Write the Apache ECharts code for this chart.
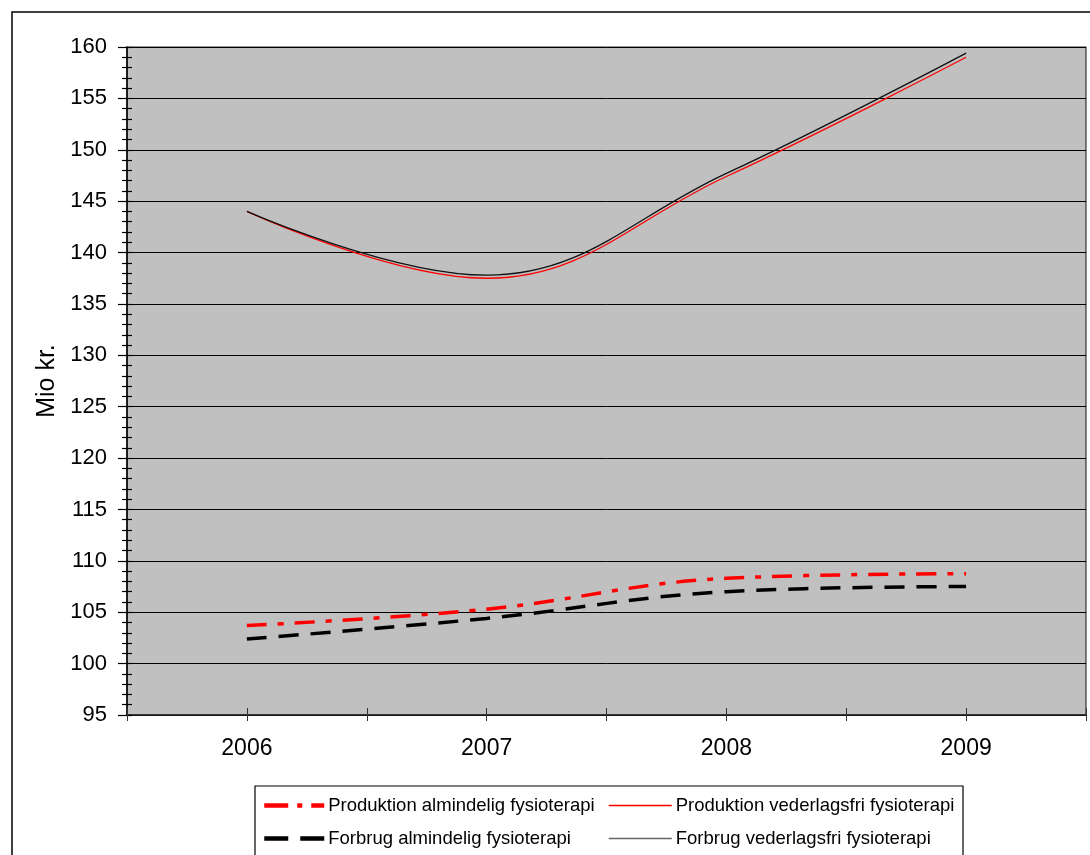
<!DOCTYPE html>
<html>
<head>
<meta charset="utf-8">
<script src="https://cdn.jsdelivr.net/npm/echarts@6/dist/echarts.min.js"></script>
<style>html,body{margin:0;padding:0;background:#fff}#c{width:1090px;height:855px}</style>
</head>
<body>
<div id="c"></div>
<script>
var years = [2006, 2007, 2008, 2009];
var prodAlm = [103.7, 105.3, 108.3, 108.75];
var prodVed = [144.0, 137.5, 147.4, 159.0];
var forbAlm = [102.4, 104.4, 107.0, 107.5];
var forbVed = [144.0, 137.8, 147.7, 159.4];
var names = ['Produktion almindelig fysioterapi', 'Produktion vederlagsfri fysioterapi',
             'Forbrug almindelig fysioterapi', 'Forbrug vederlagsfri fysioterapi'];
var yAxisName = 'Mio kr.';

function pts(arr){ return years.map(function(y,i){ return [y, arr[i]]; }); }

var chart = echarts.init(document.getElementById('c'));
var font = 'Liberation Sans, Arial, sans-serif';
var xBase = {type:'value', min:2005.5, max:2009.5, interval:0.5, gridIndex:0};
var yBase = {type:'value', min:95, max:160, interval:5, gridIndex:0};

function leg(i, left, top, w, extra){
  var o = {data:[names[i]], orient:'horizontal', left:left, top:top, itemWidth:w, itemHeight:14, padding:0,
    itemStyle:{opacity:0, borderWidth:0},
    textStyle:{fontFamily:font, fontSize:18.5, color:'#000', padding:[0,0,0,-1]}};
  return Object.assign(o, extra || {});
}

chart.setOption({
  animation:false,
  backgroundColor:'#fff',
  grid:{left:127, right:4, top:47, bottom:140, show:true, backgroundColor:'#c0c0c0', borderColor:'#333', borderWidth:1.2},
  xAxis:[
    Object.assign({}, xBase, {
      position:'bottom',
      axisLine:{lineStyle:{color:'#222', width:1.5}},
      axisTick:{show:true, length:6, lineStyle:{color:'#333', width:1}},
      axisLabel:{margin:22, fontFamily:font, fontSize:23, color:'#000',
        formatter:function(v){ return (Math.abs(v-Math.round(v))<1e-6) ? String(Math.round(v)) : ''; }},
      splitLine:{show:false}
    }),
    Object.assign({}, xBase, {
      position:'bottom',
      axisLine:{show:false},
      axisTick:{show:true, inside:true, length:7, lineStyle:{color:'#333', width:1}},
      axisLabel:{show:false}, splitLine:{show:false}
    })
  ],
  yAxis:[
    Object.assign({}, yBase, {
      position:'left',
      name:yAxisName, nameLocation:'middle', nameGap:67, nameRotate:90,
      nameTextStyle:{fontFamily:font, fontSize:25, color:'#000'},
      axisLine:{show:true, lineStyle:{color:'#000', width:1.5}},
      axisTick:{show:true, length:9, lineStyle:{color:'#000', width:1.2}},
      minorTick:{show:true, splitNumber:5, length:5, lineStyle:{color:'#000', width:1.2}},
      axisLabel:{margin:20, fontFamily:font, fontSize:22, color:'#000'},
      splitLine:{show:true, lineStyle:{color:'#000', width:1}}
    }),
    Object.assign({}, yBase, {
      position:'left',
      axisLine:{show:false},
      axisTick:{show:true, inside:true, length:5, lineStyle:{color:'#000', width:1.2}},
      minorTick:{show:true, splitNumber:5, length:5, lineStyle:{color:'#000', width:1.2}},
      axisLabel:{show:false}, splitLine:{show:false}
    })
  ],
  legend:[
    leg(0, 262, 796, 60, {lineStyle:{width:4.5, type:[24,9,5,9]}}),
    leg(2, 262, 829, 60, {lineStyle:{width:4.5, type:[24,12]}}),
    leg(1, 608, 796, 63, {lineStyle:{width:1.5}}),
    leg(3, 608, 829, 63, {lineStyle:{color:'#666', width:1.5}})
  ],
  graphic:[
    {type:'rect', shape:{x:12, y:12, width:1100, height:900}, style:{fill:null, stroke:'#000', lineWidth:1.5}, z:-1},
    {type:'rect', shape:{x:255, y:786, width:708, height:80}, style:{fill:null, stroke:'#000', lineWidth:1.2}}
  ],
  series:[
    {name:names[0], type:'line', data:pts(prodAlm), smooth:0.4, symbol:'none', color:'#ff0000',
     lineStyle:{color:'#ff0000', width:3.5, type:[20,11,6,11]}},
    {name:names[1], type:'line', data:pts(prodVed), smooth:0.4, symbol:'none', color:'#ff0000',
     lineStyle:{color:'#ff0000', width:1.3}},
    {name:names[2], type:'line', data:pts(forbAlm), smooth:0.4, symbol:'none', color:'#000',
     lineStyle:{color:'#000', width:3.5, type:[20,12]}},
    {name:names[3], type:'line', data:pts(forbVed), smooth:0.4, symbol:'none', color:'#000',
     lineStyle:{color:'#111', width:1.3}}
  ]
});
</script>
</body>
</html>
